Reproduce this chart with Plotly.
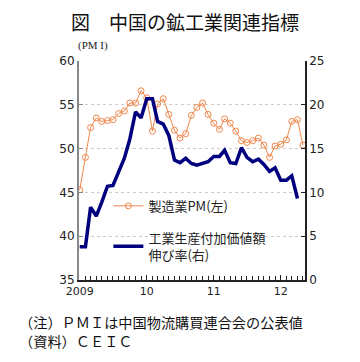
import pandas as pd
import plotly.graph_objects as go

pmi_months = pd.date_range("2009-01-01", "2012-05-01", freq="MS")
pmi = [45.3, 49.0, 52.4, 53.5, 53.1, 53.2, 53.3, 54.0, 54.3, 55.2, 55.2, 56.6,
       55.8, 52.0, 55.1, 55.7, 53.9, 52.1, 51.2, 51.7, 53.8, 54.7, 55.2, 53.9,
       52.9, 52.2, 53.4, 52.9, 52.0, 50.9, 50.7, 50.9, 51.2, 50.4, 49.0, 50.3,
       50.5, 51.0, 53.1, 53.3, 50.4]
ip_months = pd.date_range("2009-01-01", "2012-04-01", freq="MS")
ip = [3.8, 3.8, 8.3, 7.3, 8.9, 10.7, 10.8, 12.3, 13.9, 16.1, 19.2, 18.5,
      20.7, 20.7, 18.1, 17.8, 16.5, 13.7, 13.4, 13.9, 13.3, 13.1, 13.3, 13.5,
      14.1, 14.1, 14.8, 13.4, 13.3, 15.1, 14.0, 13.5, 13.8, 13.2, 12.4, 12.8,
      11.4, 11.4, 11.9, 9.3]
year_ticks = ["2009-01-01", "2010-01-01", "2011-01-01", "2012-01-01"]
year_labels = ["2009", "10", "11", "12"]

JP = "Noto Sans CJK JP"
NUM = "DejaVu Sans"
ORANGE = "#F0874A"
NAVY = "#00007F"

fig = go.Figure()
fig.add_trace(go.Scatter(
    x=pmi_months, y=pmi, name="製造業PM(左)", mode="lines+markers",
    line=dict(color=ORANGE, width=1),
    marker=dict(symbol="circle-open", size=6, color=ORANGE, line=dict(width=1)),
    legendgroup="a", yaxis="y"))
fig.add_trace(go.Scatter(
    x=ip_months, y=ip, name="工業生産付加価値額<br>伸び率(右)", mode="lines",
    line=dict(color=NAVY, width=3.5),
    legendgroup="b", yaxis="y2"))

# page body has an 8px default margin; figure sized to fit the window
fig.update_layout(
    width=352, height=354,
    margin=dict(l=71, r=55, t=53, b=82),
    paper_bgcolor="white", plot_bgcolor="white",
    font=dict(family=JP, color="#111"),
    showlegend=True,
    legend=dict(x=0.13, y=0.407, xanchor="left", yanchor="top",
                bgcolor="rgba(0,0,0,0)", font=dict(family=JP, size=13, color="#222"),
                traceorder="grouped", tracegroupgap=12, itemwidth=30),
    xaxis=dict(
        range=["2008-12-28", "2012-05-12"],
        tickvals=year_ticks, ticktext=year_labels,
        ticks="inside", ticklen=5, tickcolor="#222",
        tickfont=dict(family=NUM, size=11, color="#222"),
        showline=True, linecolor="#222", linewidth=1.5,
        showgrid=False, zeroline=False,
        minor=dict(dtick="M1", tick0="2009-01-01", ticks="inside", ticklen=4, tickcolor="#222"),
    ),
    yaxis=dict(
        range=[35, 60], dtick=5, ticks="inside", ticklen=4, tickcolor="#888",
        tickfont=dict(family=NUM, size=12, color="#222"),
        showline=True, linecolor="#888", linewidth=2,
        showgrid=True, gridcolor="#CCCCCC", griddash="dot", gridwidth=1,
        zeroline=False,
    ),
    yaxis2=dict(
        range=[0, 25], dtick=5, overlaying="y", side="right",
        ticks="inside", ticklen=4, tickcolor="#222",
        tickfont=dict(family=NUM, size=12, color="#222"),
        showline=True, linecolor="#222", linewidth=1.5,
        showgrid=False, zeroline=False,
    ),
    annotations=[
        dict(text="図　中国の鉱工業関連指標", xref="paper", yref="paper",
             x=0.5, y=1, xshift=-7, yshift=40,
             showarrow=False, font=dict(family=JP, size=19, color="#111"),
             xanchor="center", yanchor="middle", borderpad=0),
        dict(text="(PM I)", xref="paper", yref="paper", x=0, xshift=-3, y=1, yshift=7,
             showarrow=False, font=dict(family="Liberation Serif", size=11, color="#222"),
             xanchor="left", yanchor="bottom"),
        dict(text="（注）ＰＭＩは中国物流購買連合会の公表値", xref="paper", yref="paper",
             x=0, xshift=-61, y=0, yshift=-42, showarrow=False, borderpad=0,
             font=dict(family=JP, size=14.2, color="#111"), xanchor="left", yanchor="middle"),
        dict(text="（資料）ＣＥＩＣ", xref="paper", yref="paper",
             x=0, xshift=-61, y=0, yshift=-61, showarrow=False, borderpad=0,
             font=dict(family=JP, size=14.2, color="#111"), xanchor="left", yanchor="middle"),
    ],
)

fig.write_html("out.html")
